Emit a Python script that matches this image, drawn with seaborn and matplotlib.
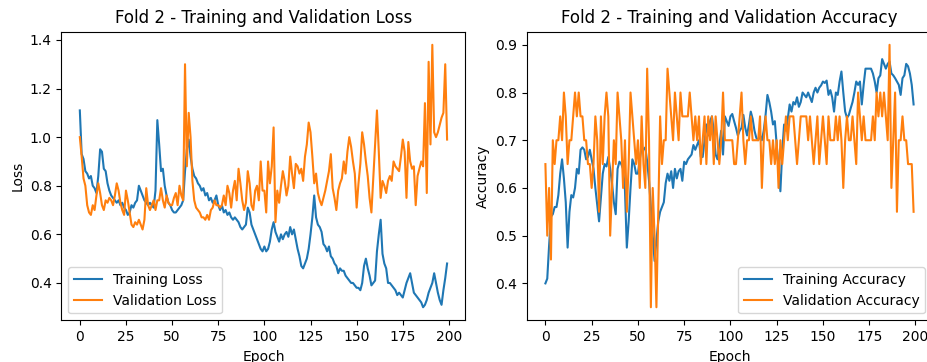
import numpy as np
import pandas as pd
import matplotlib
matplotlib.use("Agg")
import matplotlib.pyplot as plt
import seaborn as sns

epochs = list(range(200))

train_loss = [
    1.11, 0.93, 0.91, 0.86, 0.85, 0.83, 0.84, 0.80, 0.79, 0.77,
    0.84, 0.95, 0.94, 0.87, 0.86, 0.81, 0.78, 0.76, 0.75, 0.74,
    0.73, 0.74, 0.72, 0.73, 0.71, 0.70, 0.68, 0.69, 0.72, 0.71,
    0.73, 0.74, 0.80, 0.78, 0.76, 0.74, 0.73, 0.72, 0.73, 0.72,
    0.71, 0.78, 1.07, 0.97, 0.86, 0.87, 0.80, 0.76, 0.73, 0.72,
    0.70, 0.69, 0.69, 0.70, 0.71, 0.72, 0.74, 0.86, 0.95, 0.99,
    0.92, 0.87, 0.84, 0.83, 0.81, 0.80, 0.78, 0.79, 0.76, 0.77,
    0.74, 0.75, 0.73, 0.74, 0.76, 0.72, 0.70, 0.72, 0.69, 0.70,
    0.68, 0.69, 0.67, 0.66, 0.67, 0.66, 0.65, 0.63, 0.62, 0.63,
    0.64, 0.71, 0.69, 0.64, 0.62, 0.60, 0.58, 0.56, 0.54, 0.53,
    0.55, 0.53, 0.54, 0.57, 0.62, 0.65, 0.61, 0.59, 0.57, 0.60,
    0.58, 0.60, 0.61, 0.59, 0.63, 0.60, 0.62, 0.58, 0.54, 0.51,
    0.47, 0.46, 0.48, 0.50, 0.54, 0.60, 0.67, 0.76, 0.67, 0.64,
    0.63, 0.61, 0.56, 0.55, 0.53, 0.55, 0.51, 0.50, 0.48, 0.47,
    0.44, 0.46, 0.45, 0.45, 0.43, 0.42, 0.41, 0.40, 0.40, 0.39,
    0.38, 0.38, 0.37, 0.40, 0.47, 0.50, 0.46, 0.43, 0.39, 0.40,
    0.41, 0.53, 0.60, 0.66, 0.52, 0.48, 0.46, 0.40, 0.40, 0.39,
    0.38, 0.37, 0.35, 0.36, 0.35, 0.34, 0.37, 0.40, 0.42, 0.44,
    0.40, 0.36, 0.35, 0.34, 0.33, 0.32, 0.30, 0.31, 0.33, 0.36,
    0.38, 0.40, 0.44, 0.40, 0.36, 0.33, 0.31, 0.37, 0.42, 0.48,
]

val_loss = [
    1.00, 0.92, 0.83, 0.80, 0.72, 0.69, 0.68, 0.72, 0.70, 0.76,
    0.81, 0.77, 0.72, 0.70, 0.74, 0.73, 0.75, 0.74, 0.72, 0.76,
    0.81, 0.78, 0.73, 0.70, 0.68, 0.78, 0.74, 0.69, 0.64, 0.63,
    0.65, 0.64, 0.66, 0.64, 0.62, 0.66, 0.79, 0.72, 0.70, 0.72,
    0.74, 0.70, 0.74, 0.74, 0.79, 0.74, 0.71, 0.76, 0.73, 0.72,
    0.72, 0.75, 0.77, 0.72, 0.80, 0.76, 0.74, 1.30, 0.88, 1.10,
    1.00, 0.82, 0.74, 0.71, 0.70, 0.69, 0.67, 0.67, 0.66, 0.68,
    0.66, 0.70, 0.71, 0.74, 0.72, 0.72, 0.71, 0.72, 0.76, 0.72,
    0.80, 0.77, 0.71, 0.78, 0.82, 0.74, 0.87, 0.81, 0.74, 0.70,
    0.73, 0.86, 0.81, 0.72, 0.70, 0.78, 0.80, 0.74, 0.90, 0.78,
    0.78, 0.69, 0.90, 0.81, 0.88, 1.04, 0.65, 0.78, 0.73, 0.80,
    0.86, 0.82, 0.76, 0.80, 0.92, 0.85, 0.79, 0.89, 0.88, 0.85,
    0.87, 0.82, 0.92, 0.97, 1.06, 1.02, 0.92, 0.81, 0.85, 0.77,
    0.74, 0.72, 0.75, 0.78, 0.82, 0.86, 0.93, 0.79, 0.75, 0.70,
    0.78, 0.81, 0.83, 0.90, 0.85, 0.94, 1.00, 0.96, 0.90, 0.85,
    0.71, 0.81, 0.89, 1.02, 0.97, 0.90, 0.84, 0.75, 0.69, 0.83,
    0.97, 1.11, 0.94, 0.75, 0.82, 0.80, 0.77, 0.82, 0.84, 0.82,
    0.90, 0.88, 0.87, 0.86, 0.92, 0.99, 0.94, 0.75, 0.98, 0.90,
    0.87, 0.88, 0.72, 0.84, 0.87, 0.90, 0.88, 1.14, 0.77, 1.31,
    0.97, 1.38, 1.02, 1.00, 1.02, 1.05, 1.08, 1.10, 1.30, 0.99,
]

train_acc = [
    0.400, 0.410, 0.480, 0.540, 0.545, 0.560, 0.560, 0.585, 0.630, 0.660,
    0.620, 0.570, 0.475, 0.550, 0.585, 0.580, 0.600, 0.640, 0.630, 0.680,
    0.685, 0.680, 0.660, 0.665, 0.680, 0.660, 0.640, 0.600, 0.565, 0.530,
    0.580, 0.630, 0.650, 0.645, 0.665, 0.640, 0.610, 0.570, 0.545, 0.640,
    0.655, 0.650, 0.640, 0.595, 0.475, 0.530, 0.600, 0.660, 0.650, 0.630,
    0.630, 0.660, 0.685, 0.680, 0.685, 0.655, 0.615, 0.560, 0.500, 0.447,
    0.490, 0.530, 0.550, 0.560, 0.570, 0.610, 0.630, 0.615, 0.635, 0.600,
    0.640, 0.620, 0.635, 0.640, 0.615, 0.655, 0.650, 0.660, 0.665, 0.670,
    0.690, 0.680, 0.690, 0.700, 0.665, 0.665, 0.700, 0.733, 0.710, 0.740,
    0.750, 0.720, 0.670, 0.660, 0.690, 0.720, 0.670, 0.750, 0.740, 0.730,
    0.750, 0.755, 0.740, 0.726, 0.710, 0.720, 0.726, 0.753, 0.726, 0.710,
    0.733, 0.760, 0.745, 0.720, 0.705, 0.700, 0.710, 0.700, 0.720, 0.753,
    0.795, 0.780, 0.760, 0.733, 0.740, 0.690, 0.640, 0.593, 0.676, 0.733,
    0.720, 0.745, 0.775, 0.760, 0.780, 0.775, 0.790, 0.770, 0.780, 0.800,
    0.795, 0.790, 0.800, 0.790, 0.780, 0.800, 0.810, 0.800, 0.810, 0.815,
    0.823, 0.820, 0.825, 0.795, 0.805, 0.790, 0.760, 0.800, 0.795, 0.823,
    0.844, 0.800, 0.760, 0.747, 0.753, 0.767, 0.780, 0.800, 0.823, 0.816,
    0.823, 0.775, 0.816, 0.850, 0.850, 0.850, 0.850, 0.840, 0.823, 0.800,
    0.830, 0.836, 0.870, 0.860, 0.850, 0.860, 0.865, 0.840, 0.836, 0.830,
    0.823, 0.816, 0.795, 0.830, 0.836, 0.860, 0.855, 0.840, 0.816, 0.775,
]

val_acc = [
    0.65, 0.50, 0.60, 0.45, 0.70, 0.65, 0.70, 0.70, 0.75, 0.70,
    0.80, 0.75, 0.65, 0.70, 0.70, 0.75, 0.80, 0.75, 0.80, 0.75,
    0.75, 0.70, 0.70, 0.65, 0.65, 0.60, 0.65, 0.75, 0.70, 0.55,
    0.75, 0.65, 0.75, 0.80, 0.75, 0.50, 0.60, 0.70, 0.65, 0.80,
    0.75, 0.70, 0.60, 0.70, 0.55, 0.65, 0.80, 0.75, 0.70, 0.65,
    0.70, 0.60, 0.75, 0.65, 0.60, 0.85, 0.70, 0.35, 0.60, 0.50,
    0.35, 0.55, 0.75, 0.65, 0.70, 0.70, 0.85, 0.80, 0.75, 0.70,
    0.80, 0.75, 0.70, 0.80, 0.75, 0.75, 0.75, 0.75, 0.80, 0.75,
    0.70, 0.75, 0.70, 0.75, 0.65, 0.70, 0.75, 0.65, 0.75, 0.70,
    0.75, 0.65, 0.75, 0.70, 0.65, 0.70, 0.80, 0.70, 0.70, 0.70,
    0.70, 0.70, 0.65, 0.65, 0.70, 0.75, 0.80, 0.70, 0.65, 0.70,
    0.70, 0.75, 0.70, 0.70, 0.70, 0.70, 0.75, 0.60, 0.70, 0.75,
    0.70, 0.70, 0.65, 0.70, 0.65, 0.70, 0.60, 0.70, 0.65, 0.70,
    0.75, 0.70, 0.75, 0.75, 0.75, 0.70, 0.65, 0.70, 0.75, 0.75,
    0.75, 0.75, 0.70, 0.75, 0.70, 0.65, 0.70, 0.75, 0.65, 0.70,
    0.75, 0.70, 0.65, 0.75, 0.70, 0.70, 0.70, 0.75, 0.70, 0.75,
    0.70, 0.60, 0.70, 0.75, 0.70, 0.70, 0.75, 0.70, 0.65, 0.80,
    0.75, 0.70, 0.75, 0.70, 0.70, 0.70, 0.70, 0.75, 0.70, 0.80,
    0.75, 0.80, 0.75, 0.80, 0.75, 0.70, 0.90, 0.60, 0.70, 0.80,
    0.55, 0.70, 0.70, 0.75, 0.70, 0.70, 0.65, 0.65, 0.65, 0.55,
]

loss_df = pd.DataFrame({"Epoch": epochs, "Training Loss": train_loss,
                        "Validation Loss": val_loss})
acc_df = pd.DataFrame({"Epoch": epochs, "Training Accuracy": train_acc,
                       "Validation Accuracy": val_acc})

fig = plt.figure(figsize=(9.27, 3.62), dpi=100)
ax1 = fig.add_axes([0.0663, 0.115, 0.4358, 0.7975])
ax2 = fig.add_axes([0.5685, 0.115, 0.4369, 0.7975])

sns.lineplot(data=loss_df, x="Epoch", y="Training Loss", ax=ax1,
             color="#1f77b4", label="Training Loss")
sns.lineplot(data=loss_df, x="Epoch", y="Validation Loss", ax=ax1,
             color="#ff7f0e", label="Validation Loss")
ax1.set_title("Fold 2 - Training and Validation Loss")
ax1.set_xlabel("Epoch")
ax1.set_ylabel("Loss")
ax1.legend(loc="lower left")

sns.lineplot(data=acc_df, x="Epoch", y="Training Accuracy", ax=ax2,
             color="#1f77b4", label="Training Accuracy")
sns.lineplot(data=acc_df, x="Epoch", y="Validation Accuracy", ax=ax2,
             color="#ff7f0e", label="Validation Accuracy")
ax2.set_title("Fold 2 - Training and Validation Accuracy")
ax2.set_xlabel("Epoch")
ax2.set_ylabel("Accuracy")
ax2.legend(loc="lower right")

for ax in (ax1, ax2):
    ax.set_xticks([0, 25, 50, 75, 100, 125, 150, 175, 200])

fig.savefig("out.png", dpi=100)
